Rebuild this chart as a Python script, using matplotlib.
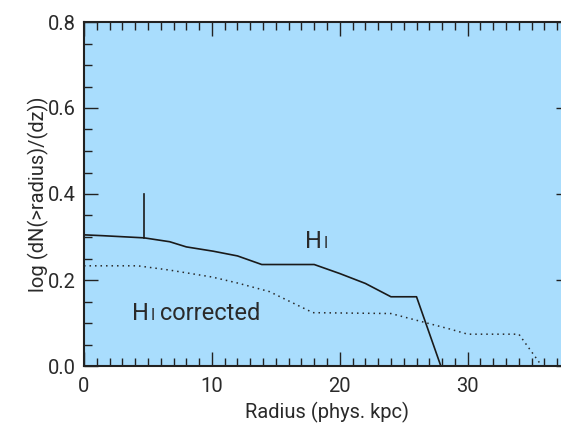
import matplotlib
matplotlib.use("Agg")
import matplotlib.pyplot as plt
from matplotlib.ticker import MultipleLocator, FormatStrFormatter

# H I cumulative curve (solid)
hi_radius = [0, 1.5, 4.7, 6.7, 8.0, 10.1, 12.0, 13.9, 18.0, 20.0, 22.0, 24.0, 26.0, 27.9, 36.0]
hi_logn = [0.305, 0.303, 0.298, 0.289, 0.277, 0.267, 0.256, 0.236, 0.236, 0.215, 0.192, 0.161, 0.161, 0.0, 0.0]

# H I corrected curve (dotted)
hic_radius = [0, 4.2, 6.7, 10.0, 12.0, 14.5, 17.9, 24.0, 28.6, 30.0, 34.0, 35.8]
hic_logn = [0.233, 0.233, 0.223, 0.207, 0.193, 0.173, 0.124, 0.122, 0.086, 0.074, 0.074, 0.0]

# error bar at small radius
err_x = [4.7, 4.7]
err_y = [0.298, 0.40]

plt.rcParams['font.family'] = ['Roboto', 'DejaVu Sans']
txt_color = '#2a2a2a'

fig = plt.figure(figsize=(5.61, 4.25), dpi=100)
ax = fig.add_axes([84 / 561, 59 / 425, 486 / 561, 344 / 425])
ax.set_facecolor('#a9ddfd')

ax.plot(hi_radius, hi_logn, color='#1a1a1a', lw=1.2)
ax.plot(hic_radius, hic_logn, color='#2a2a2a', lw=1.1, linestyle=(0, (1, 2.6)))
ax.plot(err_x, err_y, color='#1a1a1a', lw=1.2)

ax.set_xlim(0, 38.0)
ax.set_ylim(0, 0.8)
ax.xaxis.set_major_locator(MultipleLocator(10))
ax.xaxis.set_minor_locator(MultipleLocator(1))
ax.yaxis.set_major_locator(MultipleLocator(0.2))
ax.yaxis.set_minor_locator(MultipleLocator(0.05))
ax.yaxis.set_major_formatter(FormatStrFormatter('%.1f'))
ax.tick_params(which='both', direction='in', top=True, right=True, width=1.0,
               color='#222222', labelsize=14.5, labelcolor=txt_color)
ax.tick_params(axis='x', pad=8)
ax.tick_params(axis='y', pad=6)
ax.tick_params(which='major', length=10)
ax.tick_params(which='minor', length=6)
for s in ax.spines.values():
    s.set_linewidth(1.5)
    s.set_color('#222222')

ax.set_xlabel('Radius (phys. kpc)', fontsize=14.5, labelpad=4, color=txt_color)
ax.set_ylabel('log (dN(>radius)/(dz))', fontsize=14.5, labelpad=-1, color=txt_color)

# labels: "H" followed by a small-capital "I" on the same baseline
fig.canvas.draw()


def hi_label(x, y, rest=''):
    h = ax.text(x, y, 'H', fontsize=17, color=txt_color, va='baseline')
    fig.canvas.draw()
    w = h.get_window_extent().width * 72 / fig.dpi
    i = ax.annotate('I', xy=(x, y), xytext=(w + 1.0, 0), textcoords='offset points',
                    fontsize=11.5, color=txt_color, va='baseline')
    if rest:
        fig.canvas.draw()
        wi = i.get_window_extent().width * 72 / fig.dpi
        ax.annotate(rest, xy=(x, y), xytext=(w + 1.0 + wi, 0), textcoords='offset points',
                    fontsize=17, color=txt_color, va='baseline')


hi_label(17.3, 0.274)
hi_label(3.75, 0.107, ' corrected')

fig.savefig('out.png', dpi=100)
